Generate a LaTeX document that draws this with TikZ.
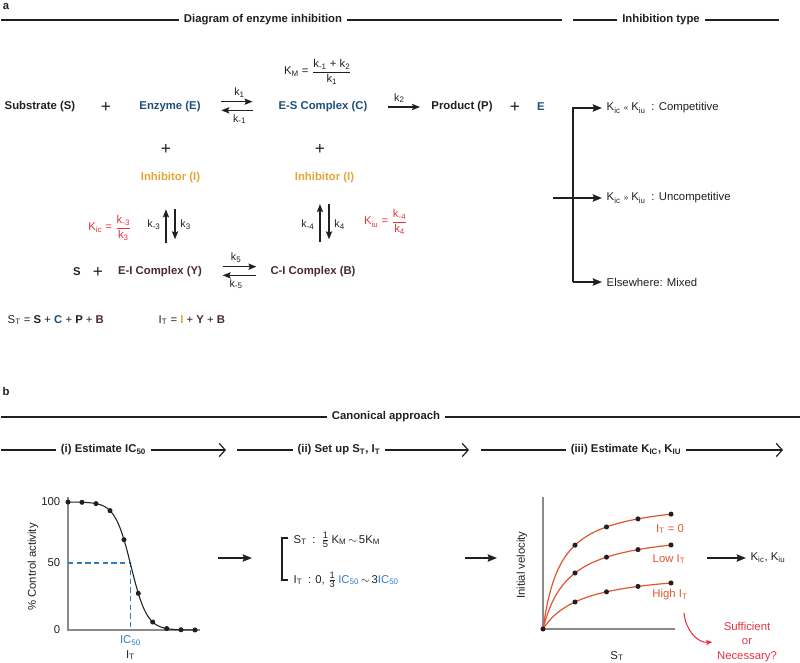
\documentclass[tikz,border=0pt]{standalone}
\usepackage{fontspec}
\setmainfont{Liberation Sans}
\usepackage{xcolor}
\usepackage{tikz}
\usetikzlibrary{arrows.meta, positioning}

\definecolor{ink}{HTML}{231F20}
\definecolor{enzblue}{HTML}{1F4E79}
\definecolor{inhgold}{HTML}{E3A533}
\definecolor{cplxbrown}{HTML}{4A2A2C}
\definecolor{kred}{HTML}{E5333F}
\definecolor{icblue}{HTML}{2F7DC1}
\definecolor{curveorange}{HTML}{E0552F}
\definecolor{axisgray}{HTML}{8A8A8A}

\newcommand{\kfrac}[2]{$\displaystyle\frac{\hbox{#1}}{\hbox{#2}}$}
\newcommand{\smallfrac}[2]{$\frac{\hbox{\scriptsize #1}}{\hbox{\scriptsize #2}}$}
\newcommand{\ksub}[1]{k\textsubscript{#1}}

\begin{document}
\begin{tikzpicture}[x=0.75pt, y=-0.75pt, color=ink, font=\fontsize{8.5}{10}\selectfont]
				% Styles
				\tikzstyle{spec} = [font=\fontsize{8.5}{10}\selectfont\bfseries]
				\tikzstyle{enzn} = [spec, text=enzblue]
				\tikzstyle{inhn} = [spec, text=inhgold]
				\tikzstyle{cplx} = [spec, text=cplxbrown]
				\tikzstyle{plus} = [font=\fontsize{13}{14}\selectfont]
				\tikzstyle{rate} = [font=\fontsize{8}{9}\selectfont, inner sep=1.5pt]
				\tikzstyle{hdr} = [font=\fontsize{8.5}{10}\selectfont\bfseries, inner sep=3.5pt]
				\tikzstyle{hline} = [line width=0.9pt]
				\tikzstyle{stepline} = [line width=0.9pt, -{Straight Barb[length=4.5pt,width=10pt,line width=0.9pt]}]
				\tikzstyle{rxn} = [line width=1.1pt, -{Stealth[length=6pt,width=4.6pt,inset=1pt]}]
				\tikzstyle{arrow} = [line width=1.1pt, -{Stealth[length=7pt,width=5.5pt,inset=1pt]}]
				\tikzstyle{axis} = [axisgray, line width=1.2pt]
				\tikzstyle{curve} = [curveorange, line width=0.9pt]

				\useasboundingbox (0,0) rectangle (800,662);

				% Panel a
				\node[spec] (tagA) at (6,6) {a};
				\node[hdr] (hdrA) at (263,20) {Diagram of enzyme inhibition};
				\node[hdr] (hdrB) at (661,20) {Inhibition type};
				\draw[hline] (1,20) -- (hdrA.west);
				\draw[hline] (hdrA.east) -- (562,20);
				\draw[hline] (573,20) -- (hdrB.west);
				\draw[hline] (hdrB.east) -- (779,20);

				% Nodes
				\node[spec] (subs) at (40,107) {Substrate (S)};
				\node[plus] (plusA) at (106,107) {+};
				\node[enzn] (enz) at (170,107) {Enzyme (E)};
				\node[enzn] (esc) at (323,107) {E-S Complex (C)};
				\node (km) at (318,72) {K\textsubscript{M} = \kfrac{\ksub{-1} + \ksub{2}}{\ksub{1}}};
				\node[spec] (prod) at (462,107) {Product (P)};
				\node[plus] (plusB) at (515,107) {+};
				\node[enzn] (enzE) at (541,107) {E};
				\node[plus] (plusC) at (166,149) {+};
				\node[plus] (plusD) at (320,149) {+};
				\node[inhn] (inhL) at (170.5,178) {Inhibitor (I)};
				\node[inhn] (inhR) at (324.5,178) {Inhibitor (I)};
				\node[spec] (sfree) at (77,272) {S};
				\node[plus] (plusE) at (98,272) {+};
				\node[cplx] (eiy) at (160,272) {E-I Complex (Y)};
				\node[cplx] (cib) at (313,272) {C-I Complex (B)};
				\node[text=kred] (kic) at (110,228) {K\textsubscript{ic} = \kfrac{\ksub{-3}}{\ksub{3}}};
				\node[text=kred] (kiu) at (386,222) {K\textsubscript{iu} = \kfrac{\ksub{-4}}{\ksub{4}}};
				\node[anchor=west] (stot) at (3,320) {S\textsubscript{T} = \textbf{S} + \textbf{\textcolor{enzblue}{C}} + \textbf{P} + \textbf{\textcolor{cplxbrown}{B}}};
				\node[anchor=west] (itot) at (154,320) {I\textsubscript{T} = \textbf{\textcolor{inhgold}{I}} + \textbf{\textcolor{cplxbrown}{Y}} + \textbf{\textcolor{cplxbrown}{B}}};

				% Connections
				\draw[rxn, shorten <=12pt, shorten >=16pt] ([yshift=4pt]enz.east) -- ([yshift=4pt]esc.west) node[rate, midway, above=1pt] {\ksub{1}};
				\draw[rxn, shorten <=16pt, shorten >=12pt] ([yshift=-2.5pt]esc.west) -- ([yshift=-2.5pt]enz.east) node[rate, midway, below=1pt] {\ksub{-1}};
				\draw[rxn, shorten <=12pt, shorten >=5pt] (esc) -- (prod) node[rate, midway, above=1pt] {\ksub{2}};
				\draw[rxn, shorten <=12pt, shorten >=7pt] ([yshift=4pt]eiy.east) -- ([yshift=4pt]cib.west) node[rate, midway, above=1pt] {\ksub{5}};
				\draw[rxn, shorten <=7pt, shorten >=12pt] ([yshift=-2.5pt]cib.west) -- ([yshift=-2.5pt]eiy.east) node[rate, midway, below=1pt] {\ksub{-5}};

				\coordinate (eiyTop) at (inhL.south |- eiy.north);
				\coordinate (cibTop) at (inhR.south |- cib.north);
				\draw[rxn, shorten <=14pt, shorten >=16pt] ([xshift=-3.4pt]eiyTop) -- ([xshift=-3.4pt]inhL.south) node[rate, midway, left=2pt] {\ksub{-3}};
				\draw[rxn, shorten <=16pt, shorten >=17pt] ([xshift=3.4pt]inhL.south) -- ([xshift=3.4pt]eiyTop) node[rate, midway, right=2pt] {\ksub{3}};
				\draw[rxn, shorten <=15pt, shorten >=12pt] ([xshift=-3.4pt]cibTop) -- ([xshift=-3.4pt]inhR.south) node[rate, midway, left=2pt] {\ksub{-4}};
				\draw[rxn, shorten <=12pt, shorten >=17pt] ([xshift=3.4pt]inhR.south) -- ([xshift=3.4pt]cibTop) node[rate, midway, right=2pt] {\ksub{4}};

				% Inhibition type
				\node[anchor=west] (comp) at (602,108) {K\textsubscript{ic} {\fontsize{6}{6}\selectfont «} K\textsubscript{iu}\enspace: Competitive};
				\node[anchor=west] (uncomp) at (602,198) {K\textsubscript{ic} {\fontsize{6}{6}\selectfont »} K\textsubscript{iu}\enspace: Uncompetitive};
				\node[anchor=west] (mixed) at (602,282) {Elsewhere: Mixed};
				\coordinate (trunk) at (573,198);
				\coordinate (feed) at (553,198);
				\draw[arrow] (trunk |- mixed.west) |- (comp.west);
				\draw[arrow] (trunk |- mixed.west) -- (mixed.west);
				\draw[arrow] (feed) -- (uncomp.west);

				% Panel b
				\node[spec] (tagB) at (6,391) {b};
				\node[hdr] (hdrC) at (386,417) {Canonical approach};
				\draw[hline] (1,417) -- (hdrC.west);
				\draw[hline] (hdrC.east) -- (800,417);

				\node[hdr] (stepA) at (103.5,450) {(i) Estimate IC\textsubscript{50}};
				\node[hdr] (stepB) at (339,450) {(ii) Set up S\textsubscript{T}, I\textsubscript{T}};
				\node[hdr] (stepC) at (626,450) {(iii) Estimate K\textsubscript{IC}, K\textsubscript{IU}};
				\draw[hline] (1,450) -- (stepA.west);
				\draw[stepline] (stepA.east) -- (226,450);
				\draw[hline] (237,450) -- (stepB.west);
				\draw[stepline] (stepB.east) -- (469,450);
				\draw[hline] (481,450) -- (stepC.west);
				\draw[stepline] (stepC.east) -- (783,450);

				% IC50 curve
				\draw[axis] (68,497) -- (68,630) -- (200,630);
				\node[anchor=east] (tick100) at (65,502) {100};
				\node[anchor=east] (tick50) at (65,563) {50};
				\node[anchor=east] (tick0) at (65,630) {0};
				\node[rotate=90] (ylabA) at (33,567) {\% Control activity};
				\draw[icblue, line width=0.8pt, dash pattern=on 4pt off 2.5pt] (68,563) -- (130.5,563) -- (130.5,630);
				\draw[line width=0.8pt] plot[domain=68:196, samples=80] (\x, {630-128/(1+exp((\x-131)/8))});
				\foreach \px in {68,82,96,110,124,138.3,152.7,166.7,181,195}
					\fill (\px, {630-128/(1+exp((\px-131)/8))}) circle[radius=1.9pt];
				\node[text=icblue] (icfifty) at (130.5,641) {IC\textsubscript{50}};
				\node (xlabA) at (130.5,655) {I\textsubscript{T}};

				\coordinate (toSetup) at (218,558);
				\draw[arrow] (toSetup) -- ++(34,0);

				% Setup bracket
				\draw[line width=1.2pt] (288,538) -- (282,538) -- (282,580) -- (288,580);
				\node[anchor=west] (setS) at (289,540) {S\textsubscript{T}\enspace:\enspace\smallfrac{1}{5}\,K\textsubscript{M}\,$\sim$\,5K\textsubscript{M}};
				\node[anchor=west] (setI) at (289,580) {I\textsubscript{T}\enspace: 0, \smallfrac{1}{3}\,\textcolor{icblue}{IC\textsubscript{50}}\,$\sim$\,3\textcolor{icblue}{IC\textsubscript{50}}};

				\coordinate (toKin) at (465,558);
				\draw[arrow] (toKin) -- ++(32,0);

				% Kinetics curves
				\draw[axis] (543,497) -- (543,629) -- (675,629);
				\node[rotate=90] (ylabB) at (522,565) {Initial velocity};
				\node (xlabB) at (617,656) {S\textsubscript{T}};
				\foreach \vm/\kk in {131/18, 100.8/25.6, 60.2/39.3} {
					\draw[curve] plot[domain=0:128, samples=60] ({543+\x}, {629-\vm*(\x/(\kk+\x))});
					\foreach \s in {32,63.5,95,128}
						\fill ({543+\s}, {629-\vm*(\s/(\kk+\s))}) circle[radius=1.9pt];
				}
				\fill (543,629) circle[radius=1.9pt];
				\node[text=curveorange] (itZero) at (670,529) {I\textsubscript{T} = 0};
				\node[text=curveorange] (itLow) at (669,559) {Low I\textsubscript{T}};
				\node[text=curveorange] (itHigh) at (670,595) {High I\textsubscript{T}};

				\node (kres) at (768,558) {K\textsubscript{ic}, K\textsubscript{iu}};
				\coordinate (toRes) at (707,558);
				\draw[arrow] (toRes) -- (kres.west);

				\node[text=kred, align=center, font=\fontsize{8.5}{11}\selectfont] (suff) at (747,642) {Sufficient\\or\\Necessary?};
				\draw[kred, line width=0.8pt, -{Stealth[length=5pt,width=4pt]}] ([xshift=10.5pt,yshift=-6pt]itHigh.south) to[out=-85, in=185] (suff.west);

			\end{tikzpicture}
\end{document}
